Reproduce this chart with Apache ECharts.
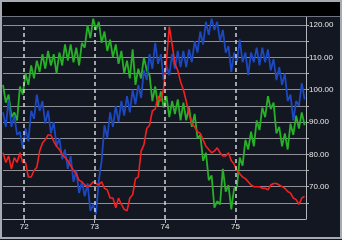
<!DOCTYPE html>
<html>
<head>
<meta charset="utf-8">
<script src="https://cdn.jsdelivr.net/npm/echarts@6/dist/echarts.min.js"></script>
<style>
html,body{margin:0;padding:0;background:#131722;}
#c{width:342px;height:240px;}
</style>
</head>
<body>
<div id="c"></div>
<script>
var times = [71.70,71.74,71.78,71.82,71.86,71.90,71.94,71.98,72.02,72.06,
72.10,72.14,72.18,72.22,72.26,72.30,72.34,72.38,72.42,72.46,
72.50,72.54,72.58,72.62,72.66,72.70,72.74,72.78,72.82,72.86,
72.90,72.94,72.98,73.02,73.06,73.10,73.14,73.18,73.22,73.26,
73.30,73.34,73.38,73.42,73.46,73.50,73.54,73.58,73.62,73.66,
73.70,73.74,73.78,73.82,73.86,73.90,73.94,73.98,74.02,74.06,
74.10,74.14,74.18,74.22,74.26,74.30,74.34,74.38,74.42,74.46,
74.50,74.54,74.58,74.62,74.66,74.70,74.74,74.78,74.82,74.86,
74.90,74.94,74.98,75.02,75.06,75.10,75.14,75.18,75.22,75.26,
75.30,75.34,75.38,75.42,75.46,75.50,75.54,75.58,75.62,75.66,
75.70,75.74,75.78,75.82,75.86,75.90,75.94,75.98];

var green = [101.5,96,98.5,91.5,93,90.5,101,98.5,105,101.5,
107.5,103.5,109,105.5,111,106.5,112,107.5,111,105,
111.5,107.5,114,109,114,108.5,113,107.5,114.5,113,
120,116,122,118.5,121,114.5,118,112,115.5,110,
114,108,112,105,109,103.5,112.5,101.5,106.5,103.5,
110,106,104.5,96.5,101,95,99.5,94.5,98,91.5,
96.5,92.5,97,90.5,96,90.5,94.5,88.5,92.5,85,
86,78,80.5,72,73.5,63.5,65.5,64.5,75.5,68.5,
70.5,63,69.5,70,79,76.5,84.5,81.5,87,82.5,
90.5,87.5,94.5,91.5,98,94,96,86.5,88.5,82.5,
86.5,81.5,89.5,86,92,88,93,89];

var blue = [93,88.5,97,88.5,92,86,87,82,88,84,
93.5,91,98.5,93.5,96.5,89.5,93.5,86.5,90,82.5,
85,78.5,81.5,75.5,79.5,71.5,75,68,71.5,67,
71,62.5,64.5,61.5,72,78,89,85,93,88.5,
95,90,96.5,92,98,93,100,95.5,101.5,97.5,
106,103,111,106.5,114.5,108,111,103,107.5,104.5,
111,106.5,112,107,112,107,112.5,108.5,115,111.5,
118,114,121,117,122,118.5,121,115,118.5,111.5,
113.5,105.5,111.5,108.5,115.5,108.5,111.5,104.5,111.5,108.5,
113,107.5,113,108.5,112.5,106,109.5,103,107,101.5,
105,96.5,98.5,90.5,96.5,95,102,97];

var red = [80.5,77.5,79.5,75.5,79,77.5,80.5,77.5,77.5,73,
73,75,76,81,83.5,84.5,86,86,84,82.5,
81.5,80,79,78,76.5,75,74,72,71.5,70.5,
70,70.5,71.5,71,70.5,71.5,69.5,69,66.5,66.5,
63.5,66.5,64.5,63,62.5,66.5,67.5,72.5,73,81,
83,88,89,93.5,94,98,96.5,100.5,109,119.5,
114,108,106,102.5,100,96.5,92.5,89.5,88.5,87,
86.5,84.5,82.5,81.5,80.5,81,82,80.5,79.5,79.5,
80.5,78,77,75,74,73,72.5,71.5,70.5,70,
70,70,69.5,69.5,69,70.5,71,71,70.5,70,
69.5,68.5,68,66.5,66,64.5,66.5,67];

var xTicks = [72, 73, 74, 75];
var yLabels = [70, 80, 90, 100, 110, 120];
var yTicks = [65, 70, 75, 80, 85, 90, 95, 100, 105, 110, 115, 120];
var vLineTop = 119.4;

function pairs(vals){ return times.map(function(t,i){ return [t, vals[i]]; }); }

var chart = echarts.init(document.getElementById('c'), null, {renderer:'canvas'});
var axisGray = '#b4b6bc';
chart.setOption({
  animation: false,
  backgroundColor: '#131722',
  grid: {left: 3, right: 36, top: 17, bottom: 21, containLabel: false},
  xAxis: {
    type: 'value', min: 71.7, max: 76.0,
    axisLine: {show: true, onZero: false, lineStyle: {color: axisGray, width: 1}},
    axisTick: {show: true, length: 4, customValues: xTicks, lineStyle: {color: axisGray}},
    axisLabel: {show: true, customValues: xTicks, margin: 4, color: '#e8e8e8', fontSize: 8,
      fontFamily: 'Liberation Sans, Arial, sans-serif', formatter: function(v){ return String(v); }},
    splitLine: {show: false}
  },
  yAxis: {
    type: 'value', position: 'right', min: 60, max: 122.5, interval: 10,
    axisLine: {show: true, lineStyle: {color: axisGray, width: 1}},
    axisTick: {show: true, length: 3, customValues: yTicks, lineStyle: {color: axisGray}},
    axisLabel: {show: true, customValues: yLabels, margin: 3, color: '#e8e8e8', fontSize: 8,
      fontFamily: 'Liberation Sans, Arial, sans-serif', formatter: function(v){ return v.toFixed(2); }},
    splitLine: {show: true, lineStyle: {color: '#8e9096', width: 1}}
  },
  graphic: [
    {type: 'rect', z: 100, shape: {x: 2, y: 2, width: 338, height: 14}, style: {fill: '#000000'}},
    {type: 'rect', z: 101, shape: {x: 1, y: 1, width: 340, height: 237}, style: {fill: null, stroke: '#a6aab4', lineWidth: 2}},
    {type: 'line', z: 101, shape: {x1: 2, y1: 16.5, x2: 340, y2: 16.5}, style: {stroke: '#70747e', lineWidth: 1}}
  ],
  series: [
    {type: 'line', name: 'green', data: pairs(green), showSymbol: false, symbol: 'none',
      lineStyle: {color: '#28b028', width: 1.8}, z: 2},
    {type: 'line', name: 'blue', data: pairs(blue), showSymbol: false, symbol: 'none',
      lineStyle: {color: '#1c48c0', width: 1.8}, z: 3},
    {type: 'line', name: 'red', data: pairs(red), showSymbol: false, symbol: 'none',
      lineStyle: {color: '#f42020', width: 1.6}, z: 4,
      markLine: {silent: true, symbol: ['none','none'], label: {show: false},
        lineStyle: {color: '#d4d4d4', type: [4, 3], width: 1.5},
        data: xTicks.map(function(x){ return [{coord: [x, 60]}, {coord: [x, vLineTop]}]; })}
    }
  ]
});
</script>
</body>
</html>
